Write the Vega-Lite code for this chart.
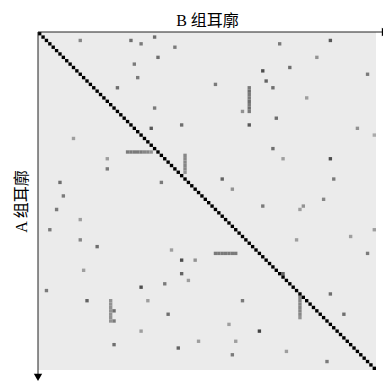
{
"$schema": "https://vega.github.io/schema/vega-lite/v6.json",
"width": 338, "height": 338,
"autosize": "none",
"padding": {"left": 38, "top": 32, "right": 7, "bottom": 14},
"config": {"view": {"fill": "#ebebeb", "stroke": null}, "font": "Liberation Serif, Noto Sans CJK SC"},
"datasets": {
"diag": [
{"col":0,"row":0,"v":1},{"col":1,"row":1,"v":1},{"col":2,"row":2,"v":1},{"col":3,"row":3,"v":1},{"col":4,"row":4,"v":1},{"col":5,"row":5,"v":1},{"col":6,"row":6,"v":1},{"col":7,"row":7,"v":1},{"col":8,"row":8,"v":1},{"col":9,"row":9,"v":1},
{"col":10,"row":10,"v":1},{"col":11,"row":11,"v":1},{"col":12,"row":12,"v":1},{"col":13,"row":13,"v":1},{"col":14,"row":14,"v":1},{"col":15,"row":15,"v":1},{"col":16,"row":16,"v":1},{"col":17,"row":17,"v":1},{"col":18,"row":18,"v":1},{"col":19,"row":19,"v":1},
{"col":20,"row":20,"v":1},{"col":21,"row":21,"v":1},{"col":22,"row":22,"v":1},{"col":23,"row":23,"v":1},{"col":24,"row":24,"v":1},{"col":25,"row":25,"v":1},{"col":26,"row":26,"v":1},{"col":27,"row":27,"v":1},{"col":28,"row":28,"v":1},{"col":29,"row":29,"v":1},
{"col":30,"row":30,"v":1},{"col":31,"row":31,"v":1},{"col":32,"row":32,"v":1},{"col":33,"row":33,"v":1},{"col":34,"row":34,"v":1},{"col":35,"row":35,"v":1},{"col":36,"row":36,"v":1},{"col":37,"row":37,"v":1},{"col":38,"row":38,"v":1},{"col":39,"row":39,"v":1},
{"col":40,"row":40,"v":1},{"col":41,"row":41,"v":1},{"col":42,"row":42,"v":1},{"col":43,"row":43,"v":1},{"col":44,"row":44,"v":1},{"col":45,"row":45,"v":1},{"col":46,"row":46,"v":1},{"col":47,"row":47,"v":1},{"col":48,"row":48,"v":1},{"col":49,"row":49,"v":1},
{"col":50,"row":50,"v":1},{"col":51,"row":51,"v":1},{"col":52,"row":52,"v":1},{"col":53,"row":53,"v":1},{"col":54,"row":54,"v":1},{"col":55,"row":55,"v":1},{"col":56,"row":56,"v":1},{"col":57,"row":57,"v":1},{"col":58,"row":58,"v":1},{"col":59,"row":59,"v":1},
{"col":60,"row":60,"v":1},{"col":61,"row":61,"v":1},{"col":62,"row":62,"v":1},{"col":63,"row":63,"v":1},{"col":64,"row":64,"v":1},{"col":65,"row":65,"v":1},{"col":66,"row":66,"v":1},{"col":67,"row":67,"v":1},{"col":68,"row":68,"v":1},{"col":69,"row":69,"v":1},
{"col":70,"row":70,"v":1},{"col":71,"row":71,"v":1},{"col":72,"row":72,"v":1},{"col":73,"row":73,"v":1},{"col":74,"row":74,"v":1},{"col":75,"row":75,"v":1},{"col":76,"row":76,"v":1},{"col":77,"row":77,"v":1},{"col":78,"row":78,"v":1},{"col":79,"row":79,"v":1},
{"col":80,"row":80,"v":1},{"col":81,"row":81,"v":1},{"col":82,"row":82,"v":1},{"col":83,"row":83,"v":1},{"col":84,"row":84,"v":1},{"col":85,"row":85,"v":1},{"col":86,"row":86,"v":1},{"col":87,"row":87,"v":1},{"col":88,"row":88,"v":1},{"col":89,"row":89,"v":1},
{"col":90,"row":90,"v":1},{"col":91,"row":91,"v":1},{"col":92,"row":92,"v":1},{"col":93,"row":93,"v":1},{"col":94,"row":94,"v":1},{"col":95,"row":95,"v":1},{"col":96,"row":96,"v":1},{"col":97,"row":97,"v":1},{"col":98,"row":98,"v":1},{"col":99,"row":99,"v":1}
],
"cells": [
{"col":12,"row":2,"v":0.4},{"col":27,"row":2,"v":0.5},{"col":34,"row":1,"v":0.5},{"col":30,"row":3,"v":0.45},{"col":40,"row":4,"v":0.45},{"col":35,"row":7,"v":0.5},{"col":28,"row":9,"v":0.45},{"col":29,"row":13,"v":0.45},{"col":23,"row":16,"v":0.5},{"col":34,"row":22,"v":0.45},{"col":33,"row":28,"v":0.6},{"col":42,"row":27,"v":0.5},{"col":10,"row":31,"v":0.3},
{"col":26,"row":35,"v":0.45},{"col":27,"row":35,"v":0.45},{"col":28,"row":35,"v":0.45},{"col":29,"row":35,"v":0.45},{"col":30,"row":35,"v":0.45},{"col":31,"row":35,"v":0.4},{"col":32,"row":35,"v":0.4},{"col":33,"row":35,"v":0.35},
{"col":20,"row":37,"v":0.3},{"col":20,"row":40,"v":0.45},
{"col":43,"row":36,"v":0.4},{"col":43,"row":37,"v":0.4},{"col":43,"row":38,"v":0.4},{"col":43,"row":39,"v":0.4},{"col":43,"row":40,"v":0.4},{"col":43,"row":41,"v":0.35},
{"col":6,"row":44,"v":0.5},{"col":36,"row":44,"v":0.45},{"col":7,"row":48,"v":0.45},
{"col":71,"row":3,"v":0.45},{"col":86,"row":2,"v":0.6},{"col":82,"row":7,"v":0.35},{"col":74,"row":10,"v":0.5},{"col":66,"row":11,"v":0.65},{"col":97,"row":12,"v":0.45},{"col":67,"row":14,"v":0.55},{"col":52,"row":15,"v":0.45},{"col":69,"row":16,"v":0.5},
{"col":62,"row":16,"v":0.45},{"col":62,"row":17,"v":0.5},{"col":62,"row":18,"v":0.45},{"col":62,"row":19,"v":0.45},{"col":62,"row":20,"v":0.5},{"col":62,"row":21,"v":0.45},{"col":62,"row":22,"v":0.5},{"col":62,"row":23,"v":0.45},
{"col":62,"row":27,"v":0.6},{"col":60,"row":23,"v":0.35},{"col":79,"row":19,"v":0.3},{"col":70,"row":25,"v":0.5},{"col":94,"row":28,"v":0.35},{"col":99,"row":30,"v":0.25},{"col":69,"row":34,"v":0.5},{"col":72,"row":37,"v":0.3},{"col":86,"row":37,"v":0.65},{"col":54,"row":43,"v":0.55},{"col":57,"row":46,"v":0.35},{"col":87,"row":43,"v":0.45},{"col":84,"row":49,"v":0.4},
{"col":5,"row":52,"v":0.45},{"col":12,"row":55,"v":0.3},{"col":3,"row":58,"v":0.45},{"col":12,"row":61,"v":0.4},{"col":17,"row":63,"v":0.5},{"col":39,"row":64,"v":0.3},{"col":42,"row":67,"v":0.65},{"col":46,"row":67,"v":0.35},{"col":42,"row":71,"v":0.55},{"col":44,"row":73,"v":0.3},{"col":13,"row":70,"v":0.3},{"col":37,"row":74,"v":0.45},{"col":30,"row":75,"v":0.65},{"col":2,"row":76,"v":0.45},{"col":14,"row":79,"v":0.55},{"col":32,"row":79,"v":0.3},
{"col":21,"row":79,"v":0.35},{"col":21,"row":80,"v":0.35},{"col":21,"row":81,"v":0.35},{"col":21,"row":82,"v":0.35},{"col":21,"row":83,"v":0.35},{"col":21,"row":84,"v":0.35},{"col":21,"row":85,"v":0.35},
{"col":22,"row":82,"v":0.5},{"col":22,"row":85,"v":0.45},{"col":38,"row":83,"v":0.5},{"col":30,"row":88,"v":0.3},{"col":22,"row":92,"v":0.5},{"col":47,"row":91,"v":0.3},{"col":41,"row":93,"v":0.55},
{"col":66,"row":51,"v":0.45},{"col":78,"row":51,"v":0.35},{"col":77,"row":52,"v":0.3},{"col":76,"row":61,"v":0.3},{"col":99,"row":58,"v":0.3},{"col":97,"row":65,"v":0.45},{"col":92,"row":60,"v":0.3},
{"col":52,"row":65,"v":0.45},{"col":53,"row":65,"v":0.45},{"col":54,"row":65,"v":0.45},{"col":55,"row":65,"v":0.45},{"col":56,"row":65,"v":0.45},{"col":57,"row":65,"v":0.45},{"col":58,"row":65,"v":0.45},
{"col":72,"row":71,"v":0.55},
{"col":77,"row":78,"v":0.4},{"col":77,"row":79,"v":0.4},{"col":77,"row":80,"v":0.4},{"col":77,"row":81,"v":0.4},{"col":77,"row":82,"v":0.4},{"col":77,"row":83,"v":0.4},{"col":77,"row":84,"v":0.35},
{"col":86,"row":77,"v":0.5},{"col":90,"row":83,"v":0.5},{"col":60,"row":79,"v":0.45},{"col":65,"row":88,"v":0.7},{"col":56,"row":86,"v":0.3},{"col":58,"row":91,"v":0.3},{"col":57,"row":95,"v":0.45},{"col":73,"row":94,"v":0.3},{"col":85,"row":97,"v":0.45}
],
"one": [{"k": 1}]
},
"layer": [
{
"data": {"name": "cells"},
"transform": [{"calculate": "datum.col + 1", "as": "col2"}, {"calculate": "datum.row + 1", "as": "row2"}],
"mark": {"type": "rect"},
"encoding": {
"x": {"field": "col", "type": "quantitative", "scale": {"domain": [0, 100], "nice": false, "zero": false},
 "axis": {"orient": "top", "title": "B 组耳廓", "ticks": false, "labels": false, "grid": false, "domain": false, "titleFontSize": 16, "titleFontWeight": "normal", "titlePadding": 4, "titleColor": "#000", "titleFont": "Liberation Serif, Noto Sans CJK SC"}},
"x2": {"field": "col2"},
"y": {"field": "row", "type": "quantitative", "scale": {"domain": [0, 100], "nice": false, "zero": false, "reverse": true},
 "axis": {"orient": "left", "title": "A 组耳廓", "ticks": false, "labels": false, "grid": false, "domain": false, "titleFontSize": 16, "titleFontWeight": "normal", "titlePadding": 9, "titleColor": "#000", "titleFont": "Liberation Serif, Noto Sans CJK SC"}},
"y2": {"field": "row2"},
"color": {"field": "v", "type": "quantitative", "scale": {"domain": [0, 1], "range": ["#ebebeb", "#000000"]}, "legend": null}
}
},
{
"data": {"name": "diag"},
"transform": [{"calculate": "datum.col + 1", "as": "col2"}, {"calculate": "datum.row + 1", "as": "row2"}],
"mark": {"type": "rect", "color": "#000"},
"encoding": {
"x": {"field": "col", "type": "quantitative"},
"x2": {"field": "col2"},
"y": {"field": "row", "type": "quantitative"},
"y2": {"field": "row2"}
}
},
{
"data": {"name": "one"},
"mark": {"type": "rule", "color": "#222", "strokeWidth": 1},
"encoding": {"x": {"datum": 0}, "x2": {"datum": 102.5}, "y": {"datum": 0}}
},
{
"data": {"name": "one"},
"mark": {"type": "rule", "color": "#222", "strokeWidth": 1},
"encoding": {"x": {"datum": 0}, "y": {"datum": 0}, "y2": {"datum": 102}}
},
{
"data": {"name": "one"},
"mark": {"type": "point", "shape": "triangle-down", "filled": true, "color": "#000", "size": 70, "opacity": 1},
"encoding": {"x": {"datum": 0}, "y": {"datum": 102.2}}
},
{
"data": {"name": "one"},
"mark": {"type": "point", "shape": "triangle-right", "filled": true, "color": "#000", "size": 70, "opacity": 1},
"encoding": {"x": {"datum": 102.8}, "y": {"datum": 0}}
}
]
}
